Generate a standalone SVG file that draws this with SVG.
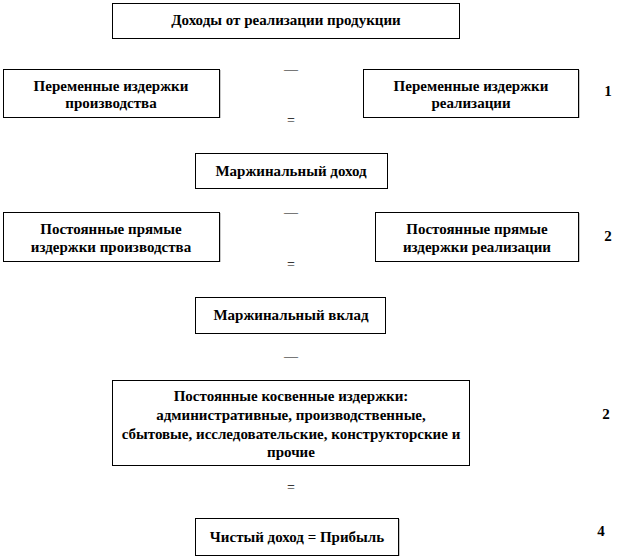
<svg xmlns="http://www.w3.org/2000/svg" width="629" height="558" viewBox="0 0 629 558">
<style>
.box{fill:#fff;stroke:#000;stroke-width:1}
.sh{stroke:#c8c8c8;stroke-width:1}
text{fill:#000;text-anchor:middle}
.t{font-weight:700;font-size:15px}
.n{font-weight:700;font-size:15px}
.op{font-size:14px}
</style>
<rect width="629" height="558" fill="#fff"/>
<g font-family="Liberation Serif, Times New Roman, serif">
<g id="n1"><rect class="box" x="112.5" y="3.5" width="347" height="35"/><text class="t" x="286" y="25">Доходы от реализации продукции</text></g>
<g id="n2"><rect class="box" x="3.5" y="69.5" width="216" height="48"/><line class="sh" x1="220.5" y1="70" x2="220.5" y2="118"/><text class="t" x="111" y="91">Переменные издержки</text><text class="t" x="111" y="108">производства</text></g>
<g id="n3"><rect class="box" x="363.5" y="69.5" width="215" height="48"/><line class="sh" x1="579.5" y1="70" x2="579.5" y2="118"/><text class="t" x="471" y="91">Переменные издержки</text><text class="t" x="471" y="108">реализации</text></g>
<g id="n4"><rect class="box" x="195.5" y="153.5" width="192" height="35"/><text class="t" x="291" y="176">Маржинальный доход</text></g>
<g id="n5"><rect class="box" x="3.5" y="212.5" width="216" height="49"/><line class="sh" x1="220.5" y1="213" x2="220.5" y2="262"/><text class="t" x="111" y="234">Постоянные прямые</text><text class="t" x="111" y="252">издержки производства</text></g>
<g id="n6"><rect class="box" x="375.5" y="212.5" width="203" height="49"/><line class="sh" x1="579.5" y1="213" x2="579.5" y2="262"/><text class="t" x="477" y="234">Постоянные прямые</text><text class="t" x="477" y="252">издержки реализации</text></g>
<g id="n7"><rect class="box" x="195.5" y="297.5" width="190" height="36"/><text class="t" x="291" y="320">Маржинальный вклад</text></g>
<g id="n8"><rect class="box" x="112.5" y="380.5" width="357" height="85"/><text class="t" x="291" y="401">Постоянные косвенные издержки:</text><text class="t" x="291" y="420">административные, производственные,</text><text class="t" x="291" y="439">сбытовые, исследовательские, конструкторские  и</text><text class="t" x="291" y="457">прочие</text></g>
<g id="n9"><rect class="box" x="195.5" y="518.5" width="203" height="37"/><line class="sh" x1="399.5" y1="519" x2="399.5" y2="556"/><text class="t" x="297" y="542">Чистый доход = Прибыль</text></g>
<g id="connectors">
<text class="op" x="291" y="74">—</text>
<text class="op" x="291" y="125">=</text>
<text class="op" x="291" y="217">—</text>
<text class="op" x="291" y="269">=</text>
<text class="op" x="291" y="361">—</text>
<text class="op" x="291" y="492">=</text>
</g>
<g id="labels">
<text class="n" x="608" y="96">1</text>
<text class="n" x="608" y="241">2</text>
<text class="n" x="606" y="419">2</text>
<text class="n" x="601" y="536">4</text>
</g>
</g>
</svg>
